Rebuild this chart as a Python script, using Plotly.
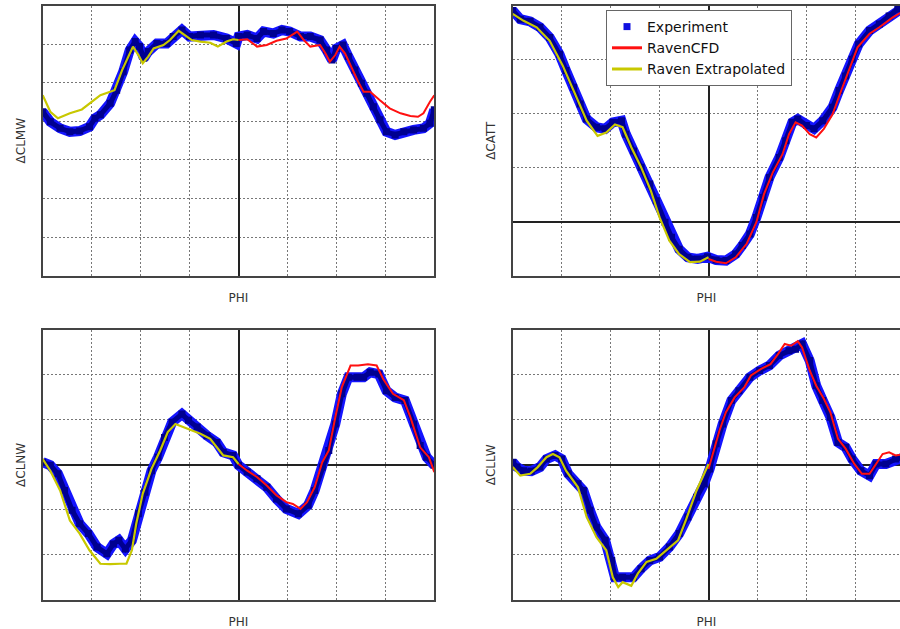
import plotly.graph_objects as go

# ---------------- data (PHI in degrees, responses in arbitrary grid units) ----------------
EXP_TL_X = [-180,-173,-164,-155,-146,-137,-132,-127,-118,-112,-106,-100,-95,-91,-87,-83,-75,-66,-60,-52,
            -45,-35,-23,-11,-2,0,8,17,23,32,40,47,57,66,75,81,86,90,96,101,
            107,113,118,124,130,136,144,152,161,170,176,180]
EXP_TL_Y = [4.25,3.99,3.82,3.73,3.75,3.86,4.08,4.17,4.47,4.81,5.29,5.85,6.07,5.94,5.64,5.81,6.02,6.02,6.2,6.37,
            6.2,6.24,6.24,6.15,6.02,6.2,6.24,6.15,6.33,6.28,6.37,6.33,6.2,6.2,6.11,5.85,5.59,5.89,5.98,5.68,
            5.33,4.99,4.73,4.38,4.04,3.73,3.65,3.73,3.78,3.82,3.95,4.3]
YEL_TL_X = [-180,-173,-166,-155,-144,-137,-127,-118,-114,-107,-101,-97,-92,-88,-83,-78,-69,-63,-55,-49,-43,-35,-26,-19,-11,-5,0]
YEL_TL_Y = [4.68,4.25,4.08,4.21,4.31,4.47,4.68,4.77,4.81,5.33,5.72,5.94,5.72,5.51,5.68,5.89,5.98,6.11,6.35,6.24,6.11,6.07,6.04,5.94,6.07,6.13,6.11]
RED_TL_X = [0,8,17,26,35,44,54,60,66,75,80,84,89,93,98,104,110,115,121,130,139,149,158,165,170,176,180]
RED_TL_Y = [6.11,6.13,5.94,5.98,6.09,6.15,6.33,6.11,5.94,5.98,5.76,5.55,5.72,5.94,5.76,5.38,5.03,4.77,4.77,4.55,4.34,4.21,4.14,4.12,4.21,4.51,4.68]

EXP_TR_X = [-180,-173,-164,-155,-146,-137,-131,-124,-118,-112,-103,-95,-88,-80,-76,-69,-62,-54,-48,-40,
            -34,-27,-19,-10,-1,7,16,25,31,38,44,50,56,65,71,77,82,90,97,105,
            114,120,126,132,138,148,157,166,174,180]
EXP_TR_Y = [3.91,3.75,3.71,3.6,3.41,3.1,2.8,2.49,2.18,1.9,1.75,1.72,1.84,1.87,1.62,1.31,1.01,0.7,0.39,-0.01,
            -0.29,-0.51,-0.66,-0.69,-0.65,-0.71,-0.72,-0.6,-0.44,-0.23,0.08,0.45,0.82,1.19,1.5,1.84,1.9,1.78,1.72,1.87,
            2.12,2.43,2.7,3.01,3.29,3.54,3.66,3.81,3.94,3.98]
YEL_TR_X = [-180,-170,-158,-146,-134,-121,-112,-102,-94,-86,-79,-71,-62,-53,-45,-36,-27,-17,-8,0]
YEL_TR_Y = [3.85,3.72,3.6,3.35,2.89,2.3,1.87,1.59,1.65,1.8,1.75,1.38,1.01,0.57,0.08,-0.35,-0.6,-0.75,-0.74,-0.66]
RED_TR_X = [0,7,16,25,35,44,51,59,68,74,80,86,93,99,106,114,122,129,137,148,157,169,175,180]
RED_TR_Y = [-0.69,-0.74,-0.77,-0.66,-0.41,-0.01,0.51,0.91,1.25,1.62,1.84,1.78,1.62,1.56,1.72,1.99,2.43,2.8,3.23,3.48,3.6,3.78,3.85,3.91]

EXP_BL_X = [-180,-173,-166,-160,-153,-146,-138,-130,-121,-115,-110,-104,-98,-92,-86,-80,-74,-68,-61,-52,
            -46,-38,-29,-20,-14,-5,0,8,17,26,35,44,55,64,70,77,83,89,95,101,
            109,115,121,129,136,144,153,161,167,173,180]
EXP_BL_Y = [0.06,-0.01,-0.2,-0.57,-1.01,-1.31,-1.53,-1.83,-1.98,-1.76,-1.68,-1.87,-1.68,-1.09,-0.61,-0.13,0.17,0.61,0.95,1.13,
            0.99,0.84,0.65,0.5,0.28,0.21,-0.01,-0.16,-0.31,-0.5,-0.76,-0.98,-1.09,-0.9,-0.57,-0.05,0.32,0.91,1.58,1.95,
            1.95,1.95,2.06,2.02,1.65,1.5,1.43,0.91,0.43,0.17,-0.01]
YEL_BL_X = [-180,-173,-164,-155,-146,-137,-127,-118,-109,-103,-98,-94,-88,-80,-72,-65,-58,-51,-43,-35,-26,-20,-14,-5,0]
YEL_BL_Y = [0.13,-0.13,-0.57,-1.24,-1.53,-1.9,-2.2,-2.21,-2.2,-2.2,-1.9,-1.31,-0.64,-0.09,0.32,0.73,0.91,0.84,0.76,0.69,0.58,0.39,0.21,0.17,0.02]
RED_BL_X = [0,8,17,26,35,44,50,57,63,70,77,83,89,95,103,110,119,127,133,142,152,158,167,175,180]
RED_BL_Y = [0.02,-0.13,-0.27,-0.46,-0.68,-0.83,-0.87,-0.98,-0.83,-0.5,0.06,0.32,1.06,1.73,2.21,2.21,2.24,2.21,1.91,1.58,1.44,1.06,0.39,0.17,-0.16]

EXP_BR_X = [-180,-176,-170,-163,-155,-149,-141,-135,-129,-120,-115,-109,-103,-95,-89,-86,-79,-69,-62,-54,
            -45,-36,-27,-19,-11,-4,1,7,13,21,28,38,47,56,65,74,80,86,93,99,
            105,112,119,126,132,140,148,154,163,172,180]
EXP_BR_Y = [0.06,-0.05,-0.13,-0.14,-0.05,0.13,0.21,0.13,-0.2,-0.42,-0.57,-1.01,-1.39,-1.68,-2.13,-2.5,-2.5,-2.5,-2.31,-2.13,
            -2.05,-1.83,-1.53,-1.16,-0.72,-0.42,-0.09,0.47,0.91,1.43,1.65,1.95,2.1,2.21,2.43,2.54,2.57,2.69,2.32,1.76,
            1.43,1.06,0.5,0.39,0.13,-0.13,-0.24,0.02,0.02,0.13,0.17]
YEL_BR_X = [-180,-173,-164,-157,-149,-143,-137,-131,-120,-112,-103,-94,-88,-83,-79,-71,-65,-57,-48,-39,-28,-21,-11,0]
YEL_BR_Y = [-0.05,-0.24,-0.2,-0.05,0.17,0.24,0.17,-0.13,-0.5,-1.16,-1.61,-1.9,-2.5,-2.72,-2.61,-2.69,-2.42,-2.16,-2.09,-1.9,-1.68,-1.24,-0.57,0.02]
RED_BR_X = [0,4,10,16,24,33,39,48,57,64,70,76,82,86,93,99,106,112,119,126,134,141,148,154,160,166,172,180]
RED_BR_Y = [-0.09,0.24,0.76,1.17,1.5,1.73,1.99,2.13,2.24,2.47,2.69,2.65,2.75,2.61,2.1,1.76,1.47,1.17,0.58,0.36,0.02,-0.2,-0.2,0.02,0.24,0.28,0.21,0.24]

PANEL_TITLES = ["\u0394CLMW", "\u0394CATT", "\u0394CLNW", "\u0394CLLW"]
X_TITLE = "PHI"
SERIES_NAMES = ["Experiment", "RavenCFD", "Raven Extrapolated"]

EXP_COLOR_EDGE = "#1414ff"
EXP_COLOR_CORE = "#000090"
RED = "#ff1010"
YEL = "#c8c800"
FONT = "DejaVu Sans"
TITLE_FONT = dict(family=FONT, size=12, color="#333333")

W, H = 900, 629
fig = go.Figure()

panels = [
    # (xaxis, yaxis, exp, yel, red, xdomain, ydomain, yrange, xrange, zero_h, mirror_y)
    ("x", "y", (EXP_TL_X, EXP_TL_Y), (YEL_TL_X, YEL_TL_Y), (RED_TL_X, RED_TL_Y),
     [42.7 / W, 434.3 / W], [1 - 275.7 / H, 1 - 5.7 / H], [0, 7], [-180, 180], False, True),
    ("x2", "y2", (EXP_TR_X, EXP_TR_Y), (YEL_TR_X, YEL_TR_Y), (RED_TR_X, RED_TR_Y),
     [512.7 / W, 1.0], [1 - 275.7 / H, 1 - 5.7 / H], [-1, 4], [-180, 176.0], True, False),
    ("x3", "y3", (EXP_BL_X, EXP_BL_Y), (YEL_BL_X, YEL_BL_Y), (RED_BL_X, RED_BL_Y),
     [42.7 / W, 434.3 / W], [1 - 599.7 / H, 1 - 330 / H], [-3, 3], [-180, 180], True, True),
    ("x4", "y4", (EXP_BR_X, EXP_BR_Y), (YEL_BR_X, YEL_BR_Y), (RED_BR_X, RED_BR_Y),
     [512.7 / W, 1.0], [1 - 599.7 / H, 1 - 330 / H], [-3, 3], [-180, 176.0], True, False),
]

layout = dict(
    width=W, height=H, margin=dict(l=0, r=0, t=0, b=0),
    paper_bgcolor="white", plot_bgcolor="white",
    font=dict(family=FONT, size=11, color="#333333"),
    showlegend=True,
    legend=dict(x=606 / W, y=1 - 10 / H, xanchor="left", yanchor="top",
                bgcolor="white", bordercolor="#666666", borderwidth=1,
                font=dict(family=FONT, size=14, color="#111111"),
                tracegroupgap=0, itemwidth=30),
)

for i, (xa, ya, exp, yel, red, xd, yd, yr, xr, zero_h, mirror_y) in enumerate(panels):
    fig.add_trace(go.Scatter(x=exp[0], y=exp[1], xaxis=xa, yaxis=ya, mode="lines",
                             line=dict(color=EXP_COLOR_EDGE, width=10), showlegend=False,
                             legendgroup="exp", hoverinfo="skip"))
    fig.add_trace(go.Scatter(x=exp[0], y=exp[1], xaxis=xa, yaxis=ya, mode="lines+markers",
                             line=dict(color=EXP_COLOR_CORE, width=5),
                             marker=dict(symbol="square", size=7, color=EXP_COLOR_CORE),
                             showlegend=False, legendgroup="exp"))
    fig.add_trace(go.Scatter(x=red[0], y=red[1], xaxis=xa, yaxis=ya, mode="lines",
                             line=dict(color=RED, width=2), name=SERIES_NAMES[1],
                             showlegend=False, legendgroup="red"))
    fig.add_trace(go.Scatter(x=yel[0], y=yel[1], xaxis=xa, yaxis=ya, mode="lines",
                             line=dict(color=YEL, width=2.2), name=SERIES_NAMES[2],
                             showlegend=False, legendgroup="yel"))

    suffix = "" if i == 0 else str(i + 1)
    layout["xaxis" + suffix] = dict(
        domain=xd, anchor=ya, range=xr, dtick=45, tick0=-180,
        showticklabels=False, ticks="",
        showgrid=True, gridcolor="#777777", griddash="2px,2px", gridwidth=1,
        zeroline=True, zerolinecolor="#222222", zerolinewidth=1.5,
        showline=True, linecolor="#444444", linewidth=1.5, mirror=True,
        title=dict(text=X_TITLE, standoff=17, font=TITLE_FONT),
    )
    layout["yaxis" + suffix] = dict(
        domain=yd, anchor=xa, range=yr, dtick=1,
        showticklabels=False, ticks="",
        showgrid=True, gridcolor="#777777", griddash="2px,2px", gridwidth=1,
        zeroline=zero_h, zerolinecolor="#222222", zerolinewidth=1.5,
        showline=True, linecolor="#444444", linewidth=1.5, mirror=mirror_y,
        title=dict(text=PANEL_TITLES[i], standoff=13, font=TITLE_FONT),
    )

# legend-only entries
fig.add_trace(go.Scatter(x=[None], y=[None], mode="markers", name=SERIES_NAMES[0],
                         marker=dict(symbol="square", size=7, color="#1010e0"), xaxis="x2", yaxis="y2"))
fig.add_trace(go.Scatter(x=[None], y=[None], mode="lines", name=SERIES_NAMES[1],
                         line=dict(color=RED, width=3), xaxis="x2", yaxis="y2"))
fig.add_trace(go.Scatter(x=[None], y=[None], mode="lines", name=SERIES_NAMES[2],
                         line=dict(color=YEL, width=3), xaxis="x2", yaxis="y2"))

fig.update_layout(**layout)
fig.write_html("out.html")
